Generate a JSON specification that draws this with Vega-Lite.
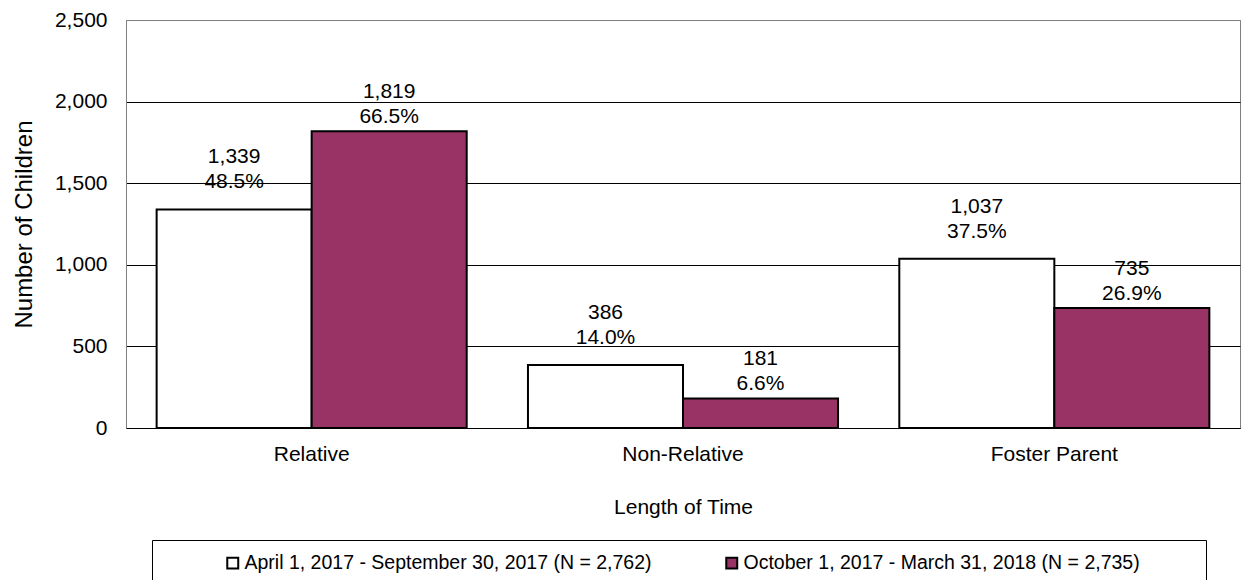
{
  "$schema": "https://vega.github.io/schema/vega-lite/v6.json",
  "width": 1114,
  "height": 408,
  "autosize": "none",
  "padding": {"left": 126, "top": 20, "right": 3, "bottom": 152},
  "background": "white",
  "config": {
    "font": "Liberation Sans",
    "view": {"stroke": "#808080", "strokeWidth": 1}
  },
  "data": {
    "values": [
      {"category": "Relative", "period": "April 1, 2017 - September 30, 2017 (N = 2,762)", "count": 1339, "pct": 48.5},
      {"category": "Relative", "period": "October 1, 2017 - March 31, 2018 (N = 2,735)", "count": 1819, "pct": 66.5},
      {"category": "Non-Relative", "period": "April 1, 2017 - September 30, 2017 (N = 2,762)", "count": 386, "pct": 14.0},
      {"category": "Non-Relative", "period": "October 1, 2017 - March 31, 2018 (N = 2,735)", "count": 181, "pct": 6.6},
      {"category": "Foster Parent", "period": "April 1, 2017 - September 30, 2017 (N = 2,762)", "count": 1037, "pct": 37.5},
      {"category": "Foster Parent", "period": "October 1, 2017 - March 31, 2018 (N = 2,735)", "count": 735, "pct": 26.9}
    ]
  },
  "transform": [
    {"calculate": "[format(datum.count, ','), format(datum.pct, '.1f') + '%']", "as": "label"}
  ],
  "encoding": {
    "x": {
      "field": "category",
      "type": "nominal",
      "sort": ["Relative", "Non-Relative", "Foster Parent"],
      "scale": {"paddingInner": 0.165, "paddingOuter": 0.0825},
      "axis": {
        "title": "Length of Time",
        "titleFontSize": 21,
        "titleFontWeight": "normal",
        "titleColor": "#000",
        "titlePadding": 32,
        "labelFontSize": 21,
        "labelColor": "#000",
        "labelAngle": 0,
        "labelPadding": 15,
        "ticks": false,
        "domainColor": "#000",
        "domainWidth": 1
      }
    },
    "xOffset": {
      "field": "period",
      "type": "nominal",
      "sort": ["April 1, 2017 - September 30, 2017 (N = 2,762)", "October 1, 2017 - March 31, 2018 (N = 2,735)"],
      "scale": {"paddingInner": 0, "paddingOuter": 0}
    },
    "y": {
      "field": "count",
      "type": "quantitative",
      "scale": {"domain": [0, 2500], "nice": false},
      "axis": {
        "title": "Number of Children",
        "titleFontSize": 24,
        "titleFontWeight": "normal",
        "titleColor": "#000",
        "titleX": -102,
        "titleY": 204,
        "titleAlign": "center",
        "titleBaseline": "middle",
        "values": [0, 500, 1000, 1500, 2000, 2500],
        "format": ",.0f",
        "labelFontSize": 21,
        "labelColor": "#000",
        "labelPadding": 19,
        "ticks": false,
        "domainColor": "#808080",
        "grid": true,
        "gridColor": {"condition": {"test": "datum.value == 2500", "value": "#808080"}, "value": "#000"},
        "gridWidth": 1,
        "gridOpacity": 1
      }
    }
  },
  "layer": [
    {
      "mark": {"type": "bar", "stroke": "#000", "strokeWidth": 2},
      "encoding": {
        "color": {
          "field": "period",
          "type": "nominal",
          "scale": {
            "domain": ["April 1, 2017 - September 30, 2017 (N = 2,762)", "October 1, 2017 - March 31, 2018 (N = 2,735)"],
            "range": ["#ffffff", "#993366"]
          },
          "legend": {
            "title": "\u00a0",
            "titleOrient": "right",
            "titlePadding": 53,
            "titleFontSize": 20,
            "orient": "none",
            "legendX": 26,
            "legendY": 520,
            "direction": "horizontal",
            "strokeColor": "#000",
            "fillColor": "#fff",
            "padding": 13,
            "symbolType": "square",
            "symbolSize": 120,
            "symbolStrokeColor": "#000",
            "symbolStrokeWidth": 2,
            "symbolOpacity": 1,
            "labelFontSize": 19.5,
            "labelColor": "#000",
            "labelLimit": 700,
            "columnPadding": 12,
            "symbolOffset": 58,
            "labelOffset": 2
          }
        }
      }
    },
    {
      "transform": [{"filter": "indexof(datum.period, 'April') == 0"}],
      "mark": {"type": "text", "baseline": "bottom", "dy": -42, "fontSize": 21, "lineHeight": 25, "color": "#000"},
      "encoding": {"text": {"field": "label"}}
    },
    {
      "transform": [{"filter": "indexof(datum.period, 'October') == 0"}],
      "mark": {"type": "text", "baseline": "bottom", "dy": -29, "fontSize": 21, "lineHeight": 25, "color": "#000"},
      "encoding": {"text": {"field": "label"}}
    }
  ]
}
